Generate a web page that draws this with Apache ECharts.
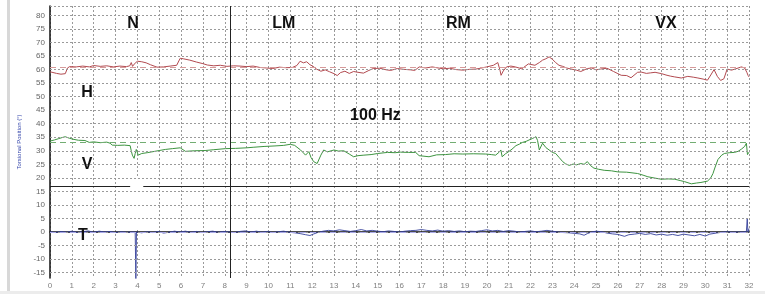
<!DOCTYPE html>
<html><head><meta charset="utf-8">
<script src="https://cdn.jsdelivr.net/npm/echarts@6/dist/echarts.min.js"></script>
<style>html,body{margin:0;padding:0;background:#fff}#c{width:765px;height:294px}</style>
</head><body><div id="c"></div>
<script>
// ---- data ----
const xTickLabels = [0,1,2,3,4,5,6,7,8,9,10,11,12,13,14,15,16,17,18,19,20,21,22,23,24,25,26,27,28,29,30,31,32];
const yTickLabels = [-15,-10,-5,0,5,10,15,20,25,30,35,40,45,50,55,60,65,70,75,80];
const yRange = [-17, 83.5];
const xRange = [0, 32];
const hRef = 61, vRef = 33, tRef = 0;
const phaseBoundary = 8.25;
const dividerLevel = 17;
const dividerGap = [3.67, 4.27];
const patchArea = [[3.67, 1], [4.27, 20]];
const phaseLabels = [["N",3.8,77],["LM",10.7,77],["RM",18.7,77],["VX",28.2,77]];
const channelLabels = [["H",1.7,51.5],["V",1.7,25],["T",1.5,-1.5],["100 Hz",14.9,43]];

const hData = [[0,59.2],[0.3,58.6],[0.5,58.3],[0.7,58.5],[0.8,60.6],[0.9,61.1],[1.2,61.0],[1.5,61.3],[1.8,61.0],[2.0,61.5],[2.3,61.2],[2.6,61.4],[2.9,61.0],[3.2,61.3],[3.5,61.1],[3.65,61.4],[3.72,62.6],[3.78,61.2],[3.85,62.0],[4.0,63.1],[4.2,62.9],[4.4,62.5],[4.6,61.8],[4.9,60.9],[5.2,61.0],[5.5,61.3],[5.8,61.6],[5.96,64.2],[6.1,64.0],[6.4,63.5],[6.7,62.8],[7.0,62.2],[7.2,61.7],[7.5,61.4],[7.8,61.6],[8.1,61.2],[8.4,61.4],[8.7,61.3],[9.0,61.1],[9.3,61.3],[9.6,60.8],[9.9,60.6],[10.2,60.4],[10.5,60.9],[10.8,60.7],[11.1,60.8],[11.3,61.5],[11.45,63.1],[11.6,62.5],[11.75,62.9],[11.9,61.8],[12.05,61.2],[12.2,60.2],[12.4,59.4],[12.6,59.9],[12.8,59.2],[13.0,58.5],[13.15,57.8],[13.3,58.9],[13.5,59.4],[13.7,58.6],[13.9,59.3],[14.1,59.0],[14.35,58.7],[14.6,59.7],[14.8,60.4],[15.1,60.5],[15.4,59.9],[15.6,59.7],[15.9,60.4],[16.2,60.1],[16.5,59.9],[16.7,59.7],[16.9,61.0],[17.2,60.6],[17.5,61.0],[17.7,60.7],[18.0,60.3],[18.3,60.5],[18.6,60.0],[18.9,59.8],[19.2,60.1],[19.5,60.2],[19.7,60.5],[20.0,61.0],[20.3,61.6],[20.5,62.6],[20.6,59.8],[20.65,57.9],[20.75,59.5],[20.9,61.0],[21.1,61.3],[21.3,61.0],[21.6,60.3],[21.9,62.1],[22.2,61.6],[22.4,62.6],[22.55,63.5],[22.7,64.0],[22.85,64.7],[23.0,63.8],[23.15,62.6],[23.3,61.6],[23.47,61.2],[23.65,60.6],[23.85,60.2],[24.1,59.8],[24.3,59.3],[24.6,60.4],[24.8,60.6],[25.0,59.9],[25.2,60.2],[25.5,60.5],[25.8,59.3],[26.0,58.5],[26.15,57.9],[26.4,57.8],[26.6,57.0],[26.9,59.0],[27.06,59.1],[27.3,58.6],[27.5,58.8],[27.7,59.0],[28.0,58.5],[28.2,58.0],[28.4,57.6],[28.6,57.3],[28.9,56.9],[29.2,57.5],[29.45,57.2],[29.66,56.9],[29.9,56.5],[30.1,56.1],[30.25,58.0],[30.4,60.0],[30.55,57.5],[30.7,56.0],[30.85,56.6],[31.0,60.2],[31.2,59.8],[31.4,60.3],[31.65,61.0],[31.8,60.6],[31.9,59.0],[31.96,57.8],[32,57.3]];

const vData = [[0,33.6],[0.2,34.0],[0.4,34.5],[0.6,35.0],[0.7,35.2],[0.9,34.6],[1.1,34.2],[1.3,33.9],[1.6,33.8],[1.8,33.1],[2.0,33.3],[2.3,33.0],[2.6,33.2],[2.75,32.8],[2.85,32.1],[3.1,32.0],[3.4,32.1],[3.67,31.9],[3.72,30.0],[3.77,28.4],[3.85,27.2],[3.9,29.0],[3.95,30.5],[4.04,28.4],[4.2,29.0],[4.45,29.3],[4.66,29.6],[5.0,30.1],[5.28,30.5],[5.6,30.8],[5.96,31.1],[6.2,29.8],[6.6,30.0],[7.1,30.1],[7.5,30.4],[8.03,30.8],[8.5,30.9],[9.0,31.1],[9.3,31.3],[9.8,31.6],[10.3,31.8],[10.7,32.0],[11.0,32.4],[11.2,32.0],[11.47,30.3],[11.7,28.4],[11.85,29.7],[11.95,27.5],[12.07,26.0],[12.23,25.3],[12.4,28.4],[12.53,30.3],[12.7,29.6],[13.0,30.3],[13.2,29.9],[13.45,30.0],[13.7,28.8],[13.9,27.8],[14.1,28.2],[14.37,28.4],[14.7,28.6],[15.0,29.0],[15.45,29.4],[15.8,29.3],[16.05,29.5],[16.4,29.4],[16.74,29.4],[16.9,28.2],[17.35,27.8],[17.7,28.5],[18.1,28.6],[18.5,28.9],[18.9,28.8],[19.4,28.9],[19.95,28.8],[20.2,28.6],[20.4,28.4],[20.55,29.4],[20.64,30.3],[20.7,27.8],[20.85,28.9],[21.0,29.7],[21.15,30.6],[21.33,31.9],[21.5,32.5],[21.63,33.1],[21.8,33.5],[21.93,34.0],[22.1,34.6],[22.25,35.2],[22.32,33.8],[22.4,30.3],[22.55,32.8],[22.7,31.2],[22.85,30.3],[23.0,29.4],[23.15,29.0],[23.3,27.6],[23.47,26.0],[23.6,25.2],[23.77,24.6],[23.95,25.1],[24.1,24.8],[24.3,25.3],[24.45,25.0],[24.6,26.0],[24.75,24.5],[24.9,23.6],[25.1,23.2],[25.37,22.8],[25.7,22.6],[26.0,22.2],[26.4,22.1],[26.9,21.6],[27.15,21.0],[27.37,20.4],[27.7,19.9],[27.98,19.5],[28.3,19.6],[28.6,19.5],[28.85,19.0],[29.05,18.6],[29.36,17.8],[29.6,18.1],[29.8,18.3],[30.1,18.8],[30.25,20.0],[30.35,21.6],[30.45,24.0],[30.58,26.8],[30.75,28.4],[30.87,29.0],[31.1,29.3],[31.33,29.4],[31.5,29.8],[31.65,30.6],[31.8,31.6],[31.88,32.8],[31.93,28.6],[32,29.5]];

const tData = [[0,0.1],[0.25,-0.2],[0.5,0.2],[0.75,-0.1],[1.0,0.3],[1.25,-0.2],[1.5,0.1],[1.75,0.4],[2.0,-0.1],[2.25,0.3],[2.5,0.0],[2.75,0.2],[3.0,-0.2],[3.25,0.1],[3.5,-0.1],[3.75,0.0],[3.9,0.0],[3.93,-17.5],[3.96,0.0],[4.2,-0.3],[4.45,0.1],[4.7,-0.2],[4.95,0.2],[5.2,-0.4],[5.45,-0.1],[5.7,0.3],[5.95,0.0],[6.2,0.3],[6.45,-0.1],[6.7,0.2],[6.95,-0.2],[7.2,0.1],[7.45,0.3],[7.7,-0.1],[7.95,0.2],[8.2,0.0],[8.45,-0.2],[8.7,0.2],[8.95,0.4],[9.2,0.0],[9.45,0.3],[9.7,-0.1],[9.95,0.2],[10.2,-0.2],[10.45,0.1],[10.7,0.3],[10.95,-0.1],[11.2,-0.3],[11.45,-0.6],[11.7,-1.0],[11.9,-1.3],[12.05,-0.8],[12.25,-0.2],[12.5,0.3],[12.75,0.6],[13.0,0.4],[13.25,0.8],[13.5,0.5],[13.75,0.2],[14.0,0.5],[14.25,0.9],[14.5,0.4],[14.75,0.6],[15.0,0.3],[15.25,0.1],[15.5,0.4],[15.75,0.2],[16.0,0.0],[16.25,0.3],[16.5,0.5],[16.75,0.6],[17.0,0.9],[17.25,0.6],[17.5,0.4],[17.75,0.7],[18.0,0.3],[18.25,0.5],[18.5,0.2],[18.75,0.4],[19.0,0.1],[19.25,0.3],[19.5,0.2],[19.75,0.5],[20.0,0.8],[20.25,0.4],[20.5,0.6],[20.75,0.2],[21.0,0.5],[21.25,0.3],[21.5,0.0],[21.75,0.2],[22.0,0.4],[22.25,0.1],[22.5,0.3],[22.75,0.6],[23.0,0.3],[23.25,0.0],[23.5,-0.2],[23.75,-0.3],[24.0,-0.5],[24.25,-0.7],[24.45,-1.2],[24.6,-0.6],[24.8,0.0],[25.0,0.3],[25.25,0.1],[25.5,-0.4],[25.75,-0.7],[26.0,-0.9],[26.3,-1.6],[26.5,-1.0],[26.75,-0.8],[27.0,-0.5],[27.25,-0.9],[27.5,-0.6],[27.75,-1.1],[28.0,-0.8],[28.25,-1.2],[28.5,-0.9],[28.75,-1.3],[29.0,-0.8],[29.25,-1.1],[29.5,-1.4],[29.75,-0.9],[30.0,-1.5],[30.2,-0.8],[30.5,-0.4],[30.75,-0.1],[31.0,0.1],[31.25,-0.1],[31.5,0.0],[31.75,0.0],[31.88,0.2],[31.92,5.0],[31.95,-0.2],[32,1.3]];

// ---- chart ----
const chart = echarts.init(document.getElementById('c'));
const gridDot = {color:'#9a9a9a', width:1, type:[2,2]};
const hLineData = yTickLabels.map(v => ({yAxis:v})).concat([{yAxis:yRange[1]}]);

const textMark = (arr, size) => arr.map(a => ({
  coord:[a[1], a[2]], value:a[0],
  label:{show:true, formatter:a[0], fontFamily:'Liberation Sans, Arial, sans-serif', fontWeight:'bold', fontSize:size, color:'#111', position:'inside'}
}));

chart.setOption({
  animation:false,
  backgroundColor:'#fff',
  grid:{left:50, right:16, top:6, bottom:16},
  xAxis:{type:'value', min:xRange[0], max:xRange[1], interval:1,
    axisLine:{lineStyle:{color:'#111', width:1.5}},
    axisTick:{show:false},
    axisLabel:{color:'#808080', fontSize:8, margin:4, fontFamily:'Liberation Sans, Arial, sans-serif'},
    splitLine:{show:true, lineStyle:gridDot}},
  yAxis:{type:'value', min:yRange[0], max:yRange[1],
    name:'Torsional Position (°)', nameLocation:'middle', nameGap:22, nameRotate:90,
    nameTextStyle:{fontSize:6, color:'#3344aa', fontFamily:'Liberation Sans, Arial, sans-serif'},
    axisLine:{show:true, lineStyle:{color:'#111', width:1.5}},
    axisTick:{show:false},
    axisLabel:{customValues:yTickLabels, color:'#666', fontSize:8, margin:5, fontFamily:'Liberation Sans, Arial, sans-serif'},
    splitLine:{show:false}},
  graphic:[{type:'rect', shape:{x:7, y:0, width:3, height:294}, style:{fill:'#d8d8d8'}, z:-10},
           {type:'rect', shape:{x:0, y:291, width:765, height:3}, style:{fill:'#ececec'}, z:-10}],
  series:[
    {type:'line', z:1, data:[], silent:true,
      markLine:{silent:true, symbol:'none', label:{show:false}, lineStyle:gridDot, data:hLineData}},
    {type:'line', z:3, data:hData, showSymbol:false, lineStyle:{color:'#b24a50', width:1}, itemStyle:{color:'#b24a50'},
      markArea:{silent:true, itemStyle:{color:'#ffffff', opacity:1}, data:[[{coord:patchArea[0]},{coord:patchArea[1]}]]},
      markLine:{silent:true, symbol:'none', label:{show:false}, lineStyle:{color:'#d79a9a', width:1, type:[6,4]}, data:[{yAxis:hRef}]}},
    {type:'line', z:3, data:vData, showSymbol:false, lineStyle:{color:'#3d9440', width:1}, itemStyle:{color:'#3d9440'},
      markLine:{silent:true, symbol:'none', label:{show:false}, lineStyle:{color:'#72ad72', width:1, type:[6,4]}, data:[{yAxis:vRef}]}},
    {type:'line', z:3, data:tData, showSymbol:false, lineStyle:{color:'#34409a', width:0.9}, itemStyle:{color:'#34409a'},
      markLine:{silent:true, symbol:'none', label:{show:false}, lineStyle:{color:'#a9a9e6', width:1, type:[6,4]}, data:[{yAxis:tRef}]}},
    {type:'line', z:4, data:[], silent:true,
      markLine:{silent:true, symbol:'none', label:{show:false}, lineStyle:{color:'#222', width:1, type:'solid'},
        data:[{xAxis:phaseBoundary},
              [{coord:[xRange[0],dividerLevel]},{coord:[dividerGap[0],dividerLevel]}],
              [{coord:[dividerGap[1],dividerLevel]},{coord:[xRange[1],dividerLevel]}]]}},
    {type:'scatter', z:5, silent:true, symbolSize:0, data:[],
      markPoint:{silent:true, symbol:'rect', symbolSize:1, itemStyle:{color:'rgba(0,0,0,0)'},
        data:textMark(phaseLabels,16).concat(textMark(channelLabels,16))}}
  ]
});
</script></body></html>
